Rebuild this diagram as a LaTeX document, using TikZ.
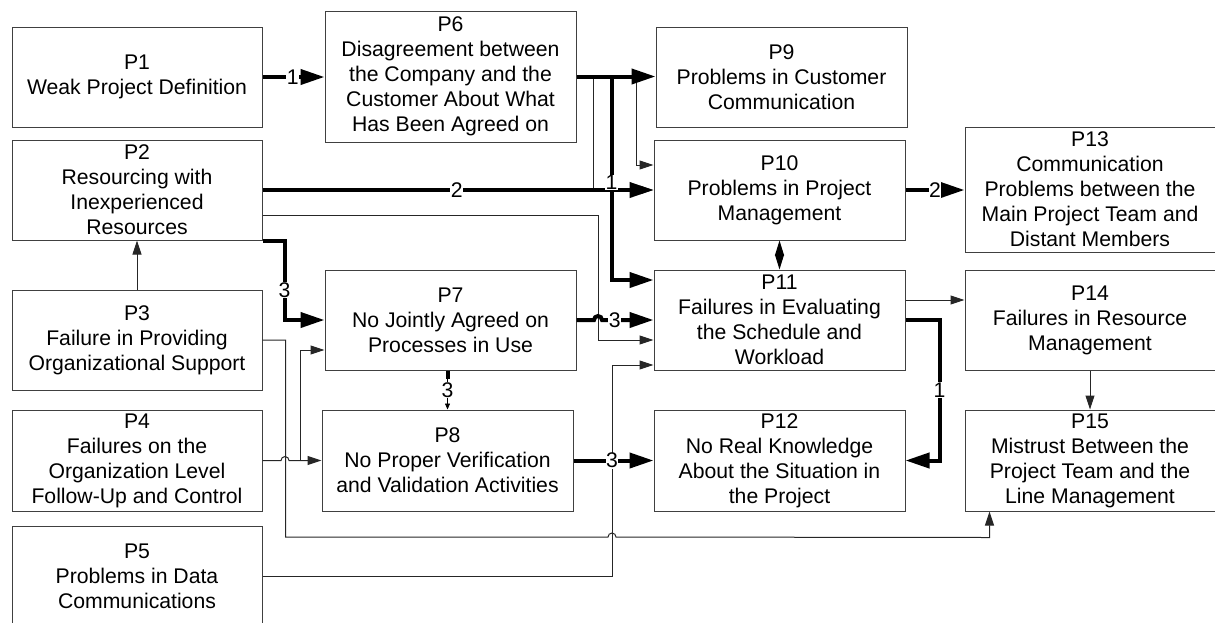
\documentclass[tikz,border=0pt]{standalone}
\usepackage{fontspec}
\setmainfont{Liberation Sans}
\usetikzlibrary{arrows.meta,calc}
\tikzset{
 box/.style={draw=black!75, line width=1pt, rectangle, inner sep=0pt, align=center,
   font=\fontsize{21.2}{25}\selectfont, minimum width=250pt, minimum height=100pt},
 thk/.style={line width=4pt, -{Triangle[length=24pt,width=15pt]}},
 thn/.style={line width=1pt, draw=black!85, -{Triangle[length=14pt,width=9pt]}},
 lbl/.style={fill=white, inner sep=0.5pt, font=\fontsize{21.2}{25}\selectfont},
}
\begin{document}
\begin{tikzpicture}[x=1pt,y=-1pt]
\useasboundingbox (0,0) rectangle (1215,622);
% boxes
\node[box] (P1) at (137,77) {P1\\Weak Project Definition};
\node[box] (P2) at (137,190) {P2\\Resourcing with\\Inexperienced\\Resources};
\node[box] (P3) at (137,340) {P3\\Failure in Providing\\Organizational Support};
\node[box, minimum height=101pt] (P4) at (137,460.5) {P4\\Failures on the\\Organization Level\\Follow-Up and Control};
\node[box] (P5) at (137,576) {P5\\Problems in Data\\Communications};
\node[box, minimum width=251pt, minimum height=131pt] (P6) at (450.5,76.5) {P6\\Disagreement between\\the Company and the\\Customer About What\\Has Been Agreed on};
\node[box, minimum width=251pt] (P7) at (450.5,320) {P7\\No Jointly Agreed on\\Processes in Use};
\node[box, minimum width=251pt, minimum height=101pt] (P8) at (447.5,460.5) {P8\\No Proper Verification\\and Validation Activities};
\node[box, minimum width=251pt] (P9) at (781.5,77) {P9\\Problems in Customer\\Communication};
\node[box, minimum width=251pt] (P10) at (779.5,190) {P10\\Problems in Project\\Management};
\node[box, minimum width=251pt] (P11) at (779.5,320) {P11\\Failures in Evaluating\\the Schedule and\\Workload};
\node[box, minimum width=251pt, minimum height=101pt] (P12) at (779.5,460.5) {P12\\No Real Knowledge\\About the Situation in\\the Project};
\node[box, minimum height=125pt] (P13) at (1090,189.5) {P13\\Communication\\Problems between the\\Main Project Team and\\Distant Members};
\node[box] (P14) at (1090,320) {P14\\Failures in Resource\\Management};
\node[box, minimum height=101pt] (P15) at (1090,460.5) {P15\\Mistrust Between the\\Project Team and the\\Line Management};

% thin connectors
\draw[thn] (P6.east) -- ++(17,0) |- (P10.west);
\draw[thn] (P6.east) -- ++(60,0) |- ($(P10.west)+(0,-25)$);
\draw[thn] ($(P2.east)+(0,25)$) -- ++(336,0) |- ($(P11.west)+(0,20)$);
\draw[thn] (P3.north) -- (P2.south);
\draw[thn] (P3.east) -- ++(23,0) -- ++(0,197) -- (608,537)
   arc[start angle=180,end angle=0,radius=4pt] -- ($(P15.south west)+(25,26)$) -- ($(P15.south west)+(25,0)$);
\draw[thn] (P4.east) -- (281,460.5) arc[start angle=180,end angle=0,radius=4pt] -- (P8.west);
\draw[thn] ($(P4.east)+(38,0)$) |- ($(P7.west)+(0,30)$);
\draw[thn] (P5.east) -- ++(350,0) |- ($(P11.west)+(0,45)$);
\draw[thn] ($(P11.east)+(0,-20)$) -- ($(P14.west)+(0,-20)$);
\draw[thn] (P14.south) -- (P15.north);
\draw[line width=1pt, {Triangle[length=15pt,width=9pt]}-{Triangle[length=15pt,width=9pt]}] (P10.south) -- (P11.north);

% thick connectors
\draw[thk] (P1.east) -- node[lbl,pos=0.49]{1} (P1.east -| P6.west);
\draw[thk] (P6.east) -- (P6.east -| P9.west);
\draw[thk] (P2.east) -- node[lbl,pos=0.497]{2} (P2.east -| P10.west);
\draw[thk] (P6.east) -- ++(35,0) |- node[lbl,pos=0.26]{1} ($(P11.west)+(0,-40)$);
\draw[thk] (P2.south east) -- ++(22,0) |- node[lbl,pos=0.31]{3} (P7.west);
\draw[thk] (P7.east) -- (594,320) arc[start angle=180,end angle=0,radius=4pt] -- node[lbl,pos=0.25]{3} (P11.west);
\draw[line width=4pt] (P7.south -| P8.north) -- ++(0,8);
\draw[line width=0.6pt, -{Triangle[length=6pt,width=5pt]}] (P7.south -| P8.north) -- node[lbl,pos=0.5]{3} (P8.north);
\draw[thk] (P8.east) -- node[lbl,pos=0.48]{3} (P12.west);
\draw[thk] (P10.east) -- node[lbl,pos=0.5]{2} (P10.east -| P13.west);
\draw[thk] (P11.east) -- ++(34,0) |- node[lbl,pos=0.25]{1} (P12.east);
\end{tikzpicture}
\end{document}
